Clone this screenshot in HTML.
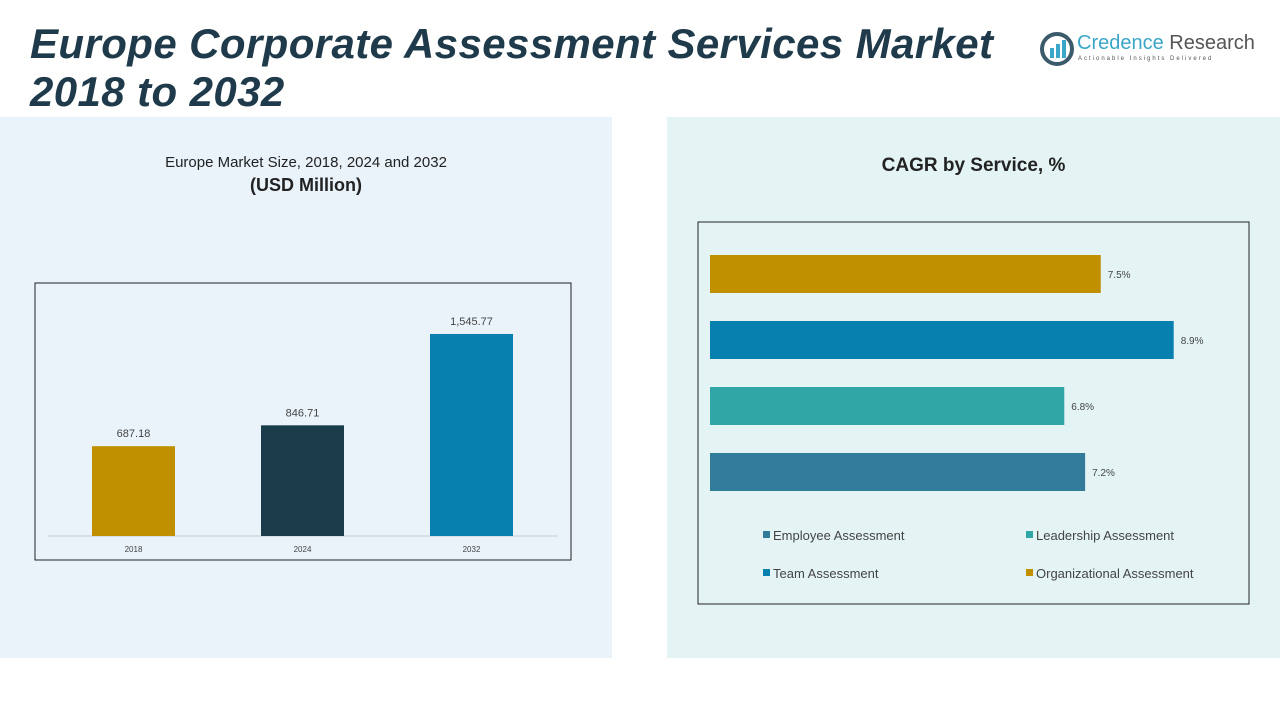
<!DOCTYPE html>
<html><head><meta charset="utf-8"><style>
body{margin:0;width:1280px;height:720px;background:#fff;position:relative;overflow:hidden;font-family:"Liberation Sans",sans-serif}
.abs{position:absolute}
</style></head><body>
<div class="abs" style="left:0;top:117px;width:612px;height:541px;background:#EAF3FA"></div>
<div class="abs" style="left:667px;top:117px;width:613px;height:541px;background:#E4F4F5"></div>
<div class="abs" style="left:30px;top:20px;font-size:42px;letter-spacing:0.4px;font-weight:bold;font-style:italic;color:#1F3A4A;line-height:48px">Europe Corporate Assessment Services Market<br>2018 to 2032</div>
<div class="abs" style="left:1040px;top:32px;width:215px;height:36px">
<svg width="34" height="34" class="abs" style="left:0;top:0"><circle cx="17" cy="17" r="15" fill="none" stroke="#3b5a6a" stroke-width="4"/><rect x="10" y="16" width="4" height="10" fill="#3aa6c8"/><rect x="16" y="12" width="4" height="14" fill="#3aa6c8"/><rect x="22" y="8" width="4" height="18" fill="#3aa6c8"/></svg>
<div class="abs" style="left:37px;top:0;font-size:20px;color:#3aa6c8;white-space:nowrap">Credence <span style="color:#555">Research</span></div>
<div class="abs" style="left:38px;top:24px;font-size:6px;letter-spacing:2px;color:#555;white-space:nowrap">Actionable Insights Delivered</div>
</div>
<div class="abs" style="left:0;width:612px;top:154px;text-align:center;font-size:15px;color:#222">Europe Market Size, 2018, 2024 and 2032<br><b style="font-size:18px;line-height:28px">(USD Million)</b></div>
<div class="abs" style="left:667px;width:613px;top:155px;text-align:center;font-size:19px;font-weight:bold;color:#222">CAGR by Service, %</div>
<svg class="abs" style="left:0;top:0" width="1280" height="720" id="chart">
<rect x="35" y="283" width="536" height="277" fill="none" stroke="#222"/>
<line x1="48" y1="536" x2="558" y2="536" stroke="#ccc"/>
<rect x="698" y="222" width="551" height="382" fill="none" stroke="#222"/>
</svg>
<script>
const years=["2018","2024","2032"];
const sizes=[687.18,846.71,1545.77];
const sizeLabels=["687.18","846.71","1,545.77"];
const services=["Organizational Assessment","Team Assessment","Leadership Assessment","Employee Assessment"];
const cagr=[7.5,8.9,6.8,7.2];
const cagrLabels=["7.5%","8.9%","6.8%","7.2%"];
const legendOrder=["Employee Assessment","Leadership Assessment","Team Assessment","Organizational Assessment"];
const colYear=["#C09000","#1A3C4B","#0780B0"];
const colSvc={"Organizational Assessment":"#C09000","Team Assessment":"#0780B0","Leadership Assessment":"#31A6A6","Employee Assessment":"#327B9A"};
const svg=document.getElementById('chart');const NS="http://www.w3.org/2000/svg";
function mk(t,a,txt){const e=document.createElementNS(NS,t);for(const k in a)e.setAttribute(k,a[k]);if(txt!==undefined)e.textContent=txt;svg.appendChild(e);return e;}
const yS=v=>536-v*0.1307, xB=i=>92+i*169;
years.forEach((y,i)=>{
 const r=mk('rect',{x:xB(i),y:yS(sizes[i]),width:83,height:536-yS(sizes[i]),fill:colYear[i]});
 
 
 const l=mk('text',{x:xB(i)+41.5,y:yS(sizes[i])-9,'text-anchor':'middle','font-size':11,fill:'#444'},sizeLabels[i]);
 
 
 const t=mk('text',{x:xB(i)+41.5,y:552,'text-anchor':'middle','font-size':8,fill:'#444'},y);
 
 
});
const xS=v=>710+v*52.1;
services.forEach((s,i)=>{
 const y=255+i*66;
 const r=mk('rect',{x:710,y:y,width:xS(cagr[i])-710,height:38,fill:colSvc[s]});
 
 
 const l=mk('text',{x:xS(cagr[i])+7,y:y+23,'font-size':10,fill:'#444'},cagrLabels[i]);
 
 
});
legendOrder.forEach((s,i)=>{
 const x=763+(i%2)*263, y=535+Math.floor(i/2)*38;
 const r=mk('rect',{x:x,y:y-4,width:7,height:7,fill:colSvc[s]});
 
 
 const t=mk('text',{x:x+10,y:y+5,'font-size':13,fill:'#444'},s);
 
 
});
</script>
</body></html>
